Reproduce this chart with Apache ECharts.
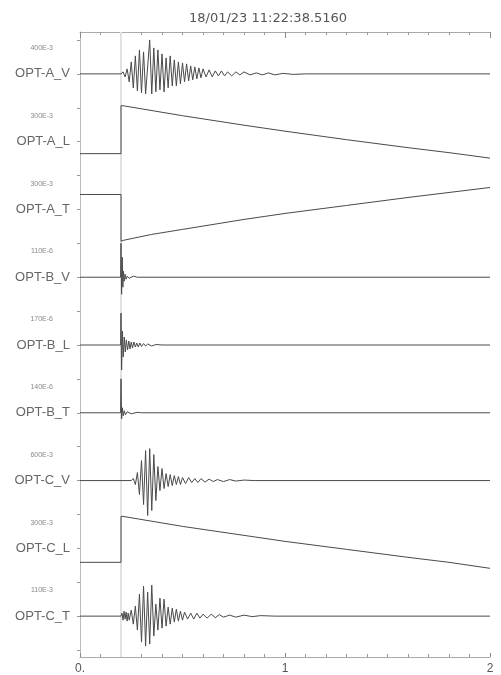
<!DOCTYPE html>
<html>
<head>
<meta charset="utf-8">
<script src="https://cdn.jsdelivr.net/npm/echarts@6/dist/echarts.min.js"></script>
<style>html,body{margin:0;padding:0;background:#fff}#c{width:501px;height:675px}</style>
</head>
<body>
<div id="c"></div>
<script>
const titleText = "18/01/23 11:22:38.5160";
const channels = ["OPT-A_V","OPT-A_L","OPT-A_T","OPT-B_V","OPT-B_L","OPT-B_T","OPT-C_V","OPT-C_L","OPT-C_T"];
const scaleLabels = ["400E-3","300E-3","300E-3","110E-6","170E-6","140E-6","600E-3","300E-3","110E-3"];
const xTickLabels = {0:"0.",1:"1",2:"2"};
const eventTime = 0.2;

// [time (s), amplitude (display counts)]
const optA_V = [[0,0],[0.2,0],[0.21,2],[0.22,-3],[0.23,5],[0.24,-8],[0.25,12],[0.26,-14],[0.27,18],[0.28,-17],[0.29,24],[0.30,-19],[0.31,22],[0.32,-20],[0.34,34],[0.35,-20],[0.36,26],[0.37,-18],[0.38,24],[0.39,-16],[0.40,20],[0.41,-18],[0.42,16],[0.43,-14],[0.44,18],[0.45,-12],[0.46,14],[0.47,-12],[0.48,12],[0.49,-10],[0.50,11],[0.51,-8],[0.52,10],[0.53,-7],[0.54,8],[0.55,-6],[0.56,7],[0.57,-5],[0.58,6],[0.59,-4],[0.60,5],[0.615,-3],[0.63,4],[0.645,-3],[0.66,3],[0.675,-2],[0.69,3],[0.705,-2],[0.72,2],[0.74,-2],[0.76,2],[0.78,-1],[0.80,2],[0.83,-1],[0.86,1],[0.89,-1],[0.92,1],[0.95,-1],[0.99,0.5],[1.04,-0.5],[1.1,0],[2,0]];
const optA_L = [[0,-12],[0.2,-12],[0.2,36],[0.21,36],[0.5,26],[0.8,16.5],[1.0,10.5],[1.3,2],[1.6,-6],[1.8,-11],[2.0,-16.5]];
const optA_T = [[0,15],[0.2,15],[0.2,-32],[0.21,-31],[0.35,-25],[0.5,-20],[0.8,-10],[1.0,-4],[1.3,4],[1.6,12],[1.8,17],[2.0,22]];
const optB_V = [[0,0],[0.198,0],[0.2,34],[0.203,-17],[0.206,20],[0.209,-10],[0.212,6],[0.216,-4],[0.22,3],[0.225,-2],[0.23,1],[0.24,-1],[0.26,1],[0.28,0],[2,0]];
const optB_L = [[0,0],[0.198,0],[0.2,32],[0.203,-25],[0.207,14],[0.211,-12],[0.216,8],[0.221,-7],[0.226,5],[0.232,-5],[0.238,4],[0.244,-4],[0.25,3],[0.256,-3],[0.263,3],[0.27,-2],[0.277,2],[0.284,-2],[0.292,2],[0.30,-1.5],[0.31,1.5],[0.32,-1],[0.33,1],[0.35,-1],[0.37,0.5],[0.4,0],[2,0]];
const optB_T = [[0,0],[0.198,0],[0.2,34],[0.203,-6],[0.207,5],[0.211,-3],[0.216,2],[0.222,-2],[0.23,1],[0.25,-1],[0.28,0.5],[0.3,0],[2,0]];
const optC_V = [[0,0],[0.25,0],[0.26,2],[0.27,-4],[0.28,8],[0.29,-14],[0.30,20],[0.31,-24],[0.32,30],[0.33,-35],[0.34,32],[0.35,-30],[0.36,26],[0.37,-20],[0.38,14],[0.39,-10],[0.40,12],[0.41,-8],[0.42,7],[0.43,-6],[0.44,6],[0.45,-5],[0.46,5],[0.47,-4],[0.48,4],[0.49,-4],[0.50,3],[0.515,-3],[0.53,3],[0.545,-2],[0.56,2],[0.575,-2],[0.59,2],[0.61,-1.5],[0.63,1.5],[0.65,-1],[0.67,1],[0.70,-1],[0.73,1],[0.76,-0.5],[0.8,0.5],[0.85,0],[2,0]];
const optC_L = [[0,-14],[0.2,-14],[0.2,32],[0.21,32],[0.5,22],[0.8,13],[1.0,7],[1.3,-1],[1.6,-9],[1.8,-14],[2.0,-20]];
const optC_T = [[0,0],[0.2,0],[0.205,3],[0.21,-4],[0.215,5],[0.22,-3],[0.225,4],[0.23,-5],[0.235,3],[0.24,-4],[0.25,6],[0.26,-8],[0.27,10],[0.28,-14],[0.29,22],[0.30,-26],[0.31,30],[0.32,-30],[0.33,24],[0.34,-28],[0.35,31],[0.36,-20],[0.37,12],[0.38,-14],[0.39,18],[0.40,-12],[0.41,17],[0.42,-10],[0.43,9],[0.44,-8],[0.45,8],[0.46,-6],[0.47,7],[0.48,-5],[0.49,5],[0.50,-4],[0.51,4],[0.525,-3],[0.54,3],[0.555,-3],[0.57,3],[0.585,-2],[0.60,2],[0.62,-2],[0.64,2],[0.66,-1.5],[0.68,1.5],[0.70,-1],[0.73,1],[0.76,-1],[0.80,1],[0.84,-0.5],[0.88,0.5],[0.95,0],[2,0]];

const traces = [optA_V, optA_L, optA_T, optB_V, optB_L, optB_T, optC_V, optC_L, optC_T];
const gain = 1 / 67.9;
const n = channels.length;

const chart = echarts.init(document.getElementById('c'), null, {renderer: 'canvas'});
const baseOf = k => (n - 1) - k;

const series = traces.map((tr, k) => ({
  type: 'line',
  name: channels[k],
  data: tr.map(p => [p[0], baseOf(k) + p[1] * gain]),
  showSymbol: false,
  symbol: 'none',
  animation: false,
  lineStyle: {color: '#4a4a4a', width: 1},
  z: 3
}));
series[0].markLine = {
  silent: true, symbol: 'none', animation: false,
  label: {show: false},
  lineStyle: {color: '#e2e2e2', width: 2, type: 'solid'},
  data: [{xAxis: eventTime}],
  z: 1
};

const labelVals = channels.map((c, k) => baseOf(k));
const tickVals = [];
for (let k = 0; k < n; k++) { tickVals.push(baseOf(k)); }
const halfTicks = [-0.5,0.5,1.5,2.5,3.5,4.5,5.5,6.5,7.5,8.5];
const allTicks = tickVals.concat(halfTicks);
const scaleVals = channels.map((c, k) => baseOf(k) + 0.38);

const font = 'Liberation Sans, Arial, sans-serif';

chart.setOption({
  animation: false,
  backgroundColor: '#fff',
  title: {
    text: titleText, left: 184, top: 7,
    textStyle: {fontSize: 13, fontWeight: 'normal', color: '#555', fontFamily: 'DejaVu Sans, sans-serif'}
  },
  grid: {left: 80, right: 11, top: 32, bottom: 17, containLabel: false},
  xAxis: [
    {
      type: 'value', position: 'bottom', min: 0, max: 2, interval: 1,
      axisLine: {show: true, onZero: false, lineStyle: {color: '#aaa', width: 1}},
      axisTick: {show: true, inside: true, length: 4, lineStyle: {color: '#888'}},
      minorTick: {show: true, splitNumber: 10, length: 3, lineStyle: {color: '#999'}},
      splitLine: {show: false},
      axisLabel: {
        show: true, margin: 6, color: '#555', fontSize: 12, fontFamily: font,
        formatter: v => { const r = Math.round(v); return Math.abs(v - r) < 1e-6 ? (xTickLabels[r] || '') : ''; }
      }
    },
    {
      type: 'value', position: 'top', min: 0, max: 2, interval: 1,
      axisLine: {show: true, onZero: false, lineStyle: {color: '#aaa', width: 1}},
      axisTick: {show: true, inside: true, length: 6, lineStyle: {color: '#888'}},
      minorTick: {show: true, splitNumber: 10, length: 3, lineStyle: {color: '#999'}},
      splitLine: {show: false},
      axisLabel: {show: false}
    }
  ],
  yAxis: [
    {
      type: 'value', position: 'left', min: -0.603, max: 8.618,
      axisLine: {show: true, onZero: false, lineStyle: {color: '#bbb', width: 1}},
      axisTick: {show: true, inside: false, length: 3, customValues: allTicks, lineStyle: {color: '#999'}},
      splitLine: {show: false},
      axisLabel: {
        show: true, customValues: labelVals, margin: 10, color: '#666', fontSize: 13, fontFamily: font,
        formatter: v => { const k = (n - 1) - Math.round(v); return channels[k] || ''; }
      }
    },
    {
      type: 'value', position: 'left', min: -0.603, max: 8.618,
      axisLine: {show: false}, axisTick: {show: false}, splitLine: {show: false},
      axisLabel: {
        show: true, customValues: scaleVals, margin: 27, color: '#888', fontSize: 7, fontFamily: font,
        formatter: v => { const k = (n - 1) - Math.round(v - 0.38); return scaleLabels[k] || ''; }
      }
    }
  ],
  series: series
});
</script>
</body>
</html>
